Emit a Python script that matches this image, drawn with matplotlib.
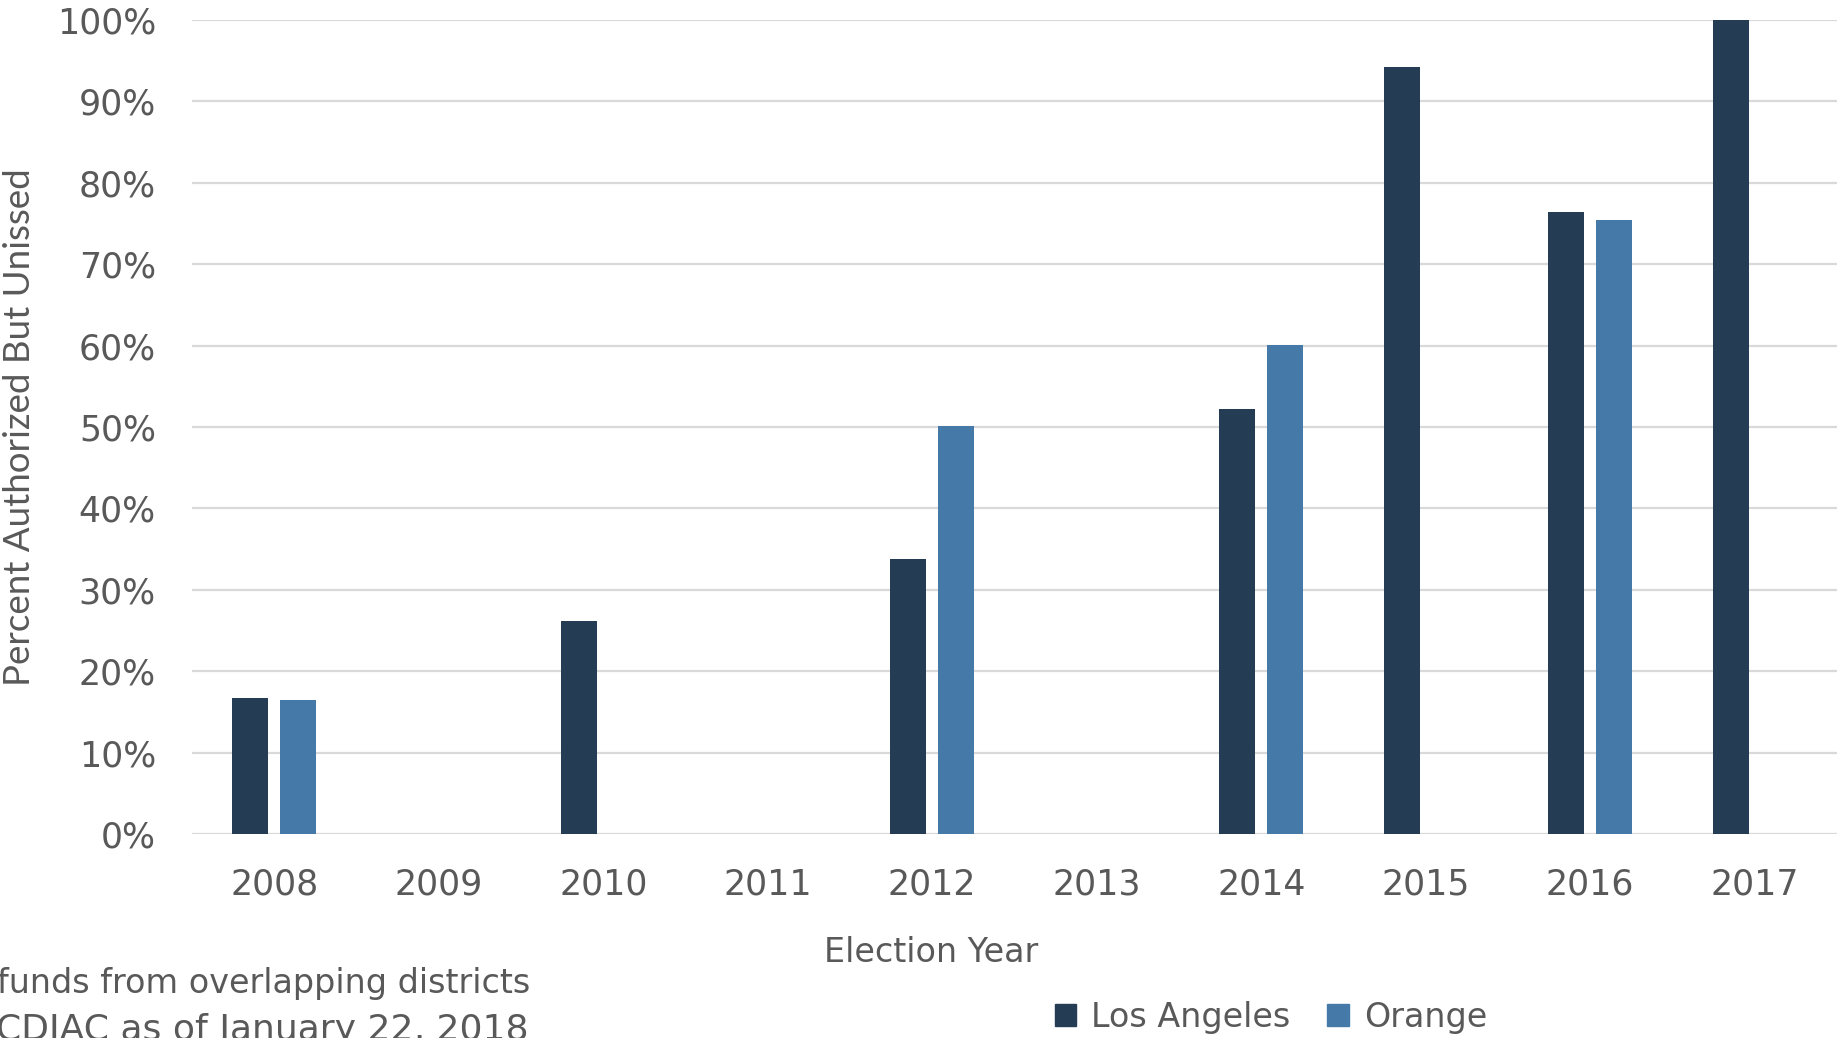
import numpy as np
import matplotlib
matplotlib.use("Agg")
import matplotlib.pyplot as plt
from matplotlib.patches import Patch

years = ["2008", "2009", "2010", "2011", "2012", "2013", "2014", "2015", "2016", "2017"]
los_angeles = [16.7, np.nan, 26.2, np.nan, 33.8, np.nan, 52.2, 94.2, 76.4, 100.0]
orange = [16.5, np.nan, np.nan, np.nan, 50.1, np.nan, 60.1, np.nan, 75.4, np.nan]
y_ticks = [0, 10, 20, 30, 40, 50, 60, 70, 80, 90, 100]

la_color = "#243D55"
orange_color = "#457AA8"
text_color = "#595959"
grid_color = "#D9D9D9"

plt.rcParams["font.family"] = ["DejaVu Sans"]

W, H = 1839, 1038
fig = plt.figure(figsize=(W / 100, H / 100), dpi=100)
ax = fig.add_axes([192 / W, (H - 834) / H, 1645 / W, 814 / H])

x = np.arange(len(years))
width = 0.22
offset = 0.145
ax.bar(x - offset, los_angeles, width, color=la_color, label="Los Angeles", zorder=3)
ax.bar(x + offset, orange, width, color=orange_color, label="Orange", zorder=3)

ax.set_xlim(-0.5, len(years) - 0.5)
ax.set_ylim(0, 100)
ax.set_yticks(y_ticks)
ax.set_yticklabels([f"{t}%" for t in y_ticks])
ax.set_xticks(x)
ax.set_xticklabels(years)
ax.tick_params(axis="both", length=0, labelsize=25, colors=text_color)
ax.tick_params(axis="y", pad=26)
ax.tick_params(axis="x", pad=24)
ax.yaxis.grid(True, color=grid_color, linewidth=1.6, zorder=0)
for s in ax.spines.values():
    s.set_visible(False)

# the y label is set in a narrower face in the reference
fig.text(20 / W, 1 - 427 / H, "Percent Authorized But Unissed", rotation=90,
         ha="center", va="center", fontsize=26.5, color=text_color,
         family=["Lato", "DejaVu Sans"])
fig.text(931 / W, 1 - 952 / H, "Election Year", ha="center", va="center",
         fontsize=24, color=text_color)

# footnote text, cut off at the figure edge
fig.text(-3 / W, 1 - 983 / H, "funds from overlapping districts", ha="left",
         va="center", fontsize=24, color=text_color)
fig.text(-4 / W, 1 - 1030 / H, "CDIAC as of January 22, 2018", ha="left",
         va="center", fontsize=26, color=text_color)

handles = [Patch(color=la_color, label="Los Angeles"),
           Patch(color=orange_color, label="Orange")]
fig.legend(handles=handles, loc="center", bbox_to_anchor=(1271 / W, 1 - 1017 / H),
           ncol=2, frameon=False, fontsize=24, labelcolor=text_color,
           handlelength=0.65, handleheight=0.65, handletextpad=0.45, columnspacing=1.1)

fig.savefig("out.png", dpi=100)
